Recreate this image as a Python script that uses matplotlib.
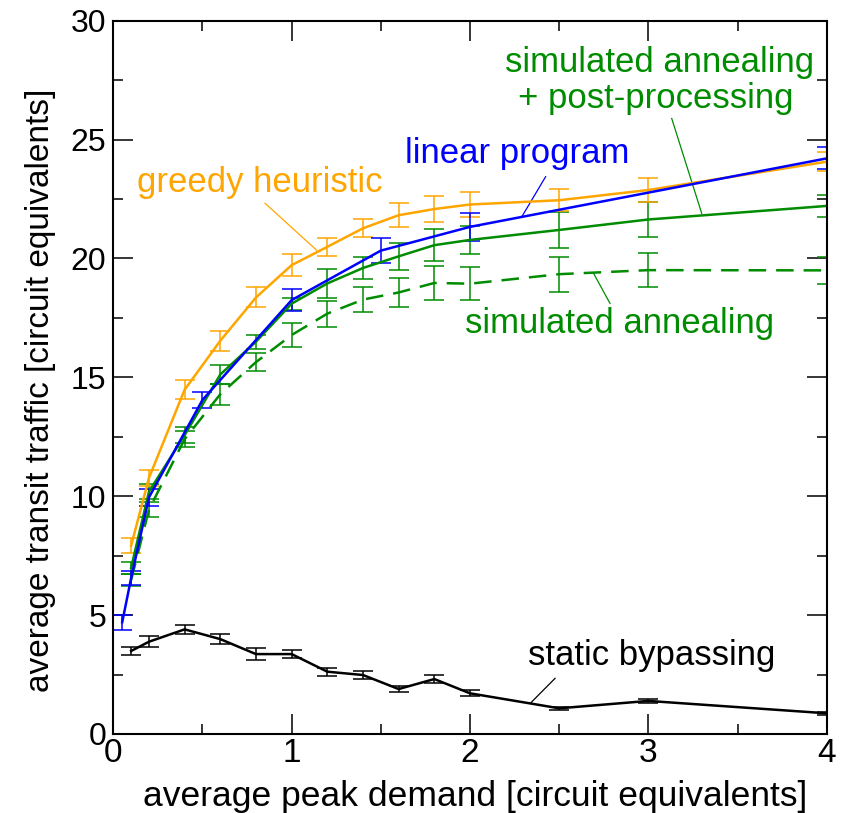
import matplotlib
matplotlib.use("Agg")
import matplotlib.pyplot as plt
from matplotlib.ticker import MultipleLocator

plt.rcParams['font.family'] = ['Liberation Sans', 'DejaVu Sans']

ORANGE = '#ffa500'
BLUE = '#0000ff'
GREEN = '#008c00'
BLACK = '#000000'

# greedy heuristic
greedy_x = [0.1, 0.2, 0.4, 0.6, 0.8, 1.0, 1.2, 1.4, 1.6, 1.8, 2.0, 2.5, 3.0, 4.0]
greedy_y = [7.92, 10.77, 14.48, 16.54, 18.36, 19.72, 20.49, 21.27, 21.82, 22.08, 22.27, 22.45, 22.88, 24.07]
greedy_e = [0.32, 0.34, 0.40, 0.42, 0.42, 0.46, 0.38, 0.38, 0.50, 0.54, 0.52, 0.46, 0.51, 0.40]

# linear program
lp_x = [0.05, 0.1, 0.2, 0.5, 1.0, 1.5, 2.0, 4.0]
lp_y = [4.70, 6.55, 9.95, 14.05, 18.25, 20.33, 21.33, 24.21]
lp_e = [0.32, 0.30, 0.35, 0.35, 0.45, 0.54, 0.60, 0.46]

# simulated annealing + post-processing
sapp_x = [0.1, 0.2, 0.4, 0.6, 0.8, 1.0, 1.2, 1.4, 1.6, 1.8, 2.0, 2.5, 3.0, 4.0]
sapp_y = [6.99, 10.19, 12.57, 15.12, 16.50, 18.10, 18.95, 19.60, 20.09, 20.56, 20.78, 21.20, 21.64, 22.21]
sapp_e = [0.26, 0.31, 0.35, 0.40, 0.30, 0.25, 0.60, 0.45, 0.57, 0.67, 0.59, 0.77, 0.73, 0.46]

# simulated annealing
sa_x = [0.1, 0.2, 0.4, 0.6, 0.8, 1.0, 1.2, 1.4, 1.6, 1.8, 2.0, 2.5, 3.0, 4.0]
sa_y = [6.47, 9.44, 12.40, 14.29, 15.64, 16.78, 17.68, 18.27, 18.57, 18.97, 18.94, 19.34, 19.51, 19.50]
sa_e = [0.25, 0.33, 0.35, 0.45, 0.37, 0.49, 0.55, 0.51, 0.60, 0.71, 0.69, 0.74, 0.70, 0.57]

# static bypassing
sb_x = [0.1, 0.2, 0.4, 0.6, 0.8, 1.0, 1.2, 1.4, 1.6, 1.8, 2.0, 2.5, 3.0, 4.0]
sb_y = [3.49, 3.88, 4.40, 3.99, 3.36, 3.36, 2.62, 2.48, 1.89, 2.31, 1.71, 1.08, 1.39, 0.87]
sb_e = [0.17, 0.22, 0.20, 0.20, 0.26, 0.18, 0.17, 0.16, 0.12, 0.17, 0.13, 0.07, 0.07, 0.06]

fig = plt.figure(figsize=(8.46, 8.13), dpi=100)
ax = fig.add_axes([0.1339, 0.0972, 0.8433, 0.8773])

lw = 1.8
ekw = dict(elinewidth=1.1, capsize=7.5, capthick=1.1)

ax.errorbar(sa_x, sa_y, yerr=sa_e, color=GREEN, lw=lw, dashes=(7, 4), **ekw)
ax.errorbar(sapp_x, sapp_y, yerr=sapp_e, color=GREEN, lw=lw, **ekw)
ax.errorbar(greedy_x, greedy_y, yerr=greedy_e, color=ORANGE, lw=lw, **ekw)
ax.errorbar(lp_x, lp_y, yerr=lp_e, color=BLUE, lw=lw, **ekw)
ax.errorbar(sb_x, sb_y, yerr=sb_e, color=BLACK, lw=lw, **ekw)

# labels with leader lines
fs = 25
ax.text(0.823, 22.8, 'greedy heuristic', color=ORANGE, fontsize=fs, ha='center', va='baseline')
ax.plot([0.851, 1.140], [22.32, 20.35], color=ORANGE, lw=0.9)

ax.text(2.262, 24.02, 'linear program', color=BLUE, fontsize=fs, ha='center', va='baseline')
ax.plot([2.424, 2.290], [23.44, 21.75], color=BLUE, lw=0.9)

ax.text(3.063, 27.84, 'simulated annealing', color=GREEN, fontsize=fs, ha='center', va='baseline')
ax.text(3.04, 26.35, '+ post-processing', color=GREEN, fontsize=fs, ha='center', va='baseline')
ax.plot([3.131, 3.299], [25.89, 21.90], color=GREEN, lw=0.9)

ax.text(2.839, 16.85, 'simulated annealing', color=GREEN, fontsize=fs, ha='center', va='baseline')
ax.plot([2.691, 2.785], [19.40, 18.11], color=GREEN, lw=0.9)

ax.text(3.019, 2.90, 'static bypassing', color=BLACK, fontsize=fs, ha='center', va='baseline')
ax.plot([2.477, 2.342], [2.34, 1.32], color=BLACK, lw=0.9)

ax.set_xlim(0, 4)
ax.set_ylim(0, 30)
ax.xaxis.set_major_locator(MultipleLocator(1))
ax.xaxis.set_minor_locator(MultipleLocator(0.5))
ax.yaxis.set_major_locator(MultipleLocator(5))
ax.yaxis.set_minor_locator(MultipleLocator(2.5))
ax.tick_params(which='both', direction='in', top=True, right=True, width=1.1)
ax.tick_params(which='major', length=14.4)
ax.tick_params(which='minor', length=7.2)
ax.tick_params(axis='x', labelsize=24, pad=3)
ax.tick_params(axis='y', labelsize=23, pad=5)
for s in ax.spines.values():
    s.set_linewidth(1.5)

ax.set_xlabel('average peak demand [circuit equivalents]', fontsize=25.5)
ax.set_ylabel('average transit traffic [circuit equivalents]', fontsize=24)
ax.xaxis.set_label_coords(0.507, -0.065)
ax.yaxis.set_label_coords(-0.080, 0.482)

fig.savefig('out.png', dpi=100)
